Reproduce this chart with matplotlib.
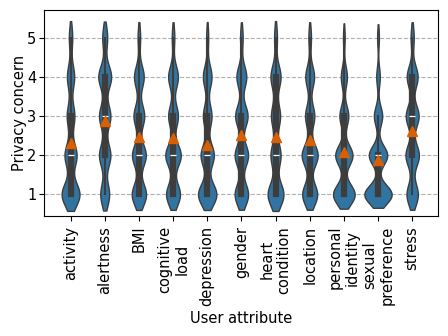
import numpy as np
import pandas as pd
import matplotlib
matplotlib.use("Agg")
import matplotlib.pyplot as plt
import seaborn as sns

attributes = ["activity", "alertness", "BMI", "cognitive\nload", "depression",
              "gender", "heart\ncondition", "location", "personal\nidentity",
              "sexual\npreference", "stress"]
levels = [1, 2, 3, 4, 5]
# number of answers per level (1..5) for each attribute
counts = [
    [37, 25, 16, 15, 7],
    [18, 23, 23, 26, 10],
    [28, 27, 21, 19, 5],
    [27, 30, 19, 19, 5],
    [36, 26, 17, 17, 4],
    [26, 26, 24, 19, 5],
    [33, 21, 19, 21, 6],
    [29, 31, 18, 17, 5],
    [39, 31, 16, 11, 3],
    [46, 31, 14, 6, 3],
    [22, 26, 25, 21, 6],
]

rows = []
for attr, c in zip(attributes, counts):
    for lv, n in zip(levels, c):
        rows += [(attr, lv)] * n
df = pd.DataFrame(rows, columns=["attr", "concern"])
means = df.groupby("attr", sort=False)["concern"].mean()

plt.rcParams["font.size"] = 10.5
fig, ax = plt.subplots(figsize=(4.48, 3.36), dpi=100)
ax.set_axisbelow(True)
ax.grid(True, linestyle="--", color="#b0b0b0", linewidth=0.8)

sns.violinplot(data=df, x="attr", y="concern", order=attributes, color="#3274a1",
               saturation=1, inner="box", bw_method=0.23, cut=1.4, ax=ax,
               linecolor="#3d3d3d", linewidth=1,
               inner_kws={"box_width": 4.5, "whis_width": 1.5})
ax.plot(range(len(attributes)), means.loc[attributes].values, "^", color="#d95f02",
        markersize=7, linestyle="none", zorder=5)

ax.set_xlim(-0.78, 10.76)
ax.set_ylim(0.45, 5.7)
ax.set_yticks(levels)
ax.set_xlabel("User attribute")
ax.set_ylabel("Privacy concern", labelpad=0)
ax.tick_params(axis="x", rotation=90)
ax.tick_params(axis="y", pad=2)
fig.subplots_adjust(left=0.098, right=0.978, top=0.97, bottom=0.357)
fig.savefig("out.png", dpi=100)
